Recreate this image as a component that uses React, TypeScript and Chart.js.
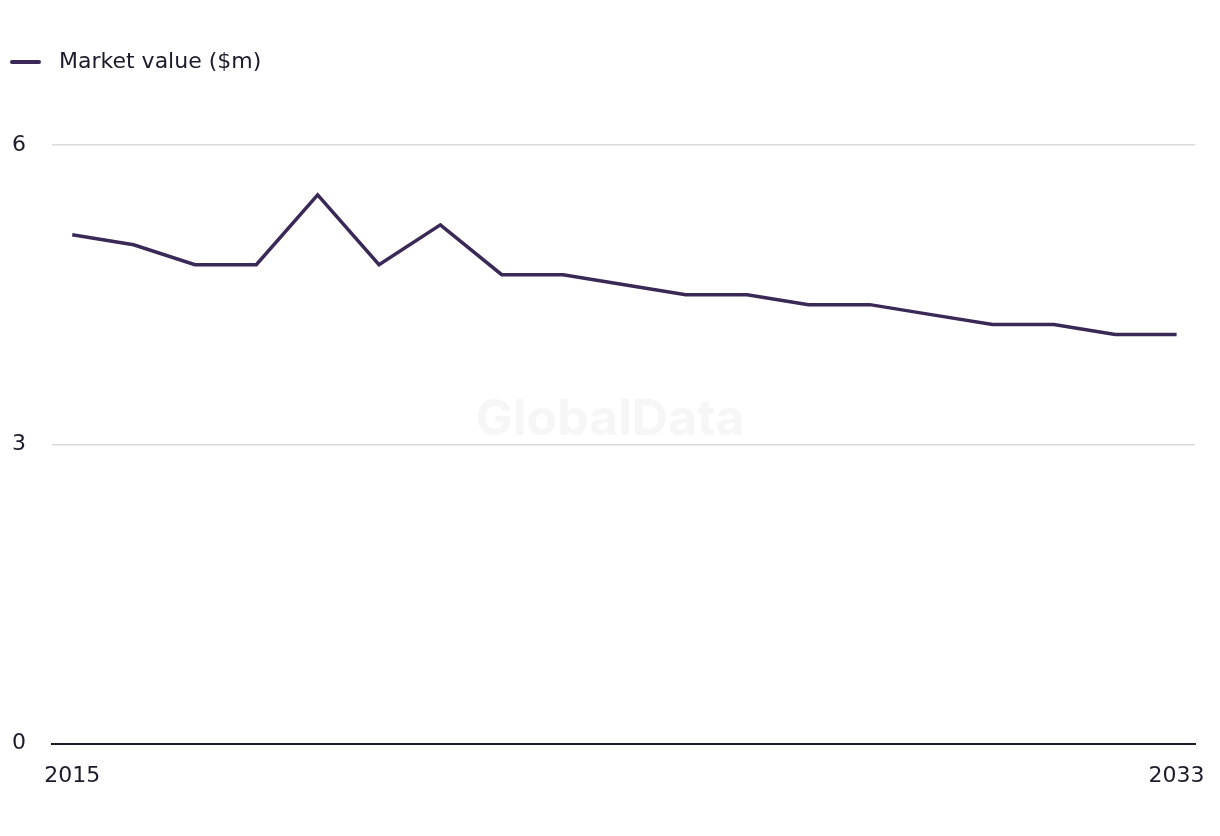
import React, { useEffect, useRef } from "react";
import { Chart, registerables } from "chart.js";

Chart.register(...registerables);

const years = [2015, 2016, 2017, 2018, 2019, 2020, 2021, 2022, 2023, 2024, 2025, 2026, 2027, 2028, 2029, 2030, 2031, 2032, 2033];
const marketValue = [5.1, 5.0, 4.8, 4.8, 5.5, 4.8, 5.2, 4.7, 4.7, 4.6, 4.5, 4.5, 4.4, 4.4, 4.3, 4.2, 4.2, 4.1, 4.1];
const yTicks = [0, 3, 6];
const xTickLabels = [2015, 2033];
const seriesLabel = "Market value ($m)";
const watermark = "GlobalData";

const FONT = "'DejaVu Sans', 'Liberation Sans', Arial, sans-serif";
const TEXT = "#1c1b2b";
const LINE = "#3a2856";

const legendPlugin = {
  id: "customLegend",
  afterDraw(chart: any) {
    const ctx = chart.ctx;
    ctx.save();
    ctx.strokeStyle = LINE;
    ctx.lineWidth = 4;
    ctx.lineCap = "round";
    ctx.beginPath();
    ctx.moveTo(4, 54);
    ctx.lineTo(31, 54);
    ctx.stroke();
    ctx.fillStyle = TEXT;
    ctx.font = `22px ${FONT}`;
    ctx.textBaseline = "middle";
    ctx.textAlign = "left";
    ctx.fillText(seriesLabel, 51, 54);
    ctx.restore();
  },
};

const watermarkPlugin = {
  id: "watermark",
  beforeDatasetsDraw(chart: any) {
    const ctx = chart.ctx;
    ctx.save();
    ctx.fillStyle = "#f6f6f6";
    ctx.font = `bold 50px Inter, 'Liberation Sans', sans-serif`;
    ctx.textAlign = "center";
    ctx.textBaseline = "middle";
    ctx.fillText(watermark, 602, 412);
    ctx.restore();
  },
};

export default function App() {
  const ref = useRef<HTMLCanvasElement>(null);
  useEffect(() => {
    if (!ref.current) return;
    const chart = new Chart(ref.current, {
      type: "line",
      data: {
        datasets: [
          {
            label: seriesLabel,
            data: years.map((y, i) => ({ x: y, y: marketValue[i] })),
            borderColor: LINE,
            backgroundColor: LINE,
            borderWidth: 3.5,
            pointRadius: 0,
            tension: 0,
          },
        ],
      },
      options: {
        animation: false,
        responsive: true,
        maintainAspectRatio: false,
        layout: { padding: { top: 137, left: 4, right: 17, bottom: 20 } },
        plugins: { legend: { display: false }, tooltip: { enabled: false } },
        scales: {
          x: {
            type: "linear",
            min: 2014.67,
            max: 2033.3,
            afterBuildTicks: (axis: any) => {
              axis.ticks = xTickLabels.map((v) => ({ value: v }));
            },
            afterFit: (axis: any) => {
              axis.paddingLeft = 0;
              axis.paddingRight = 0;
            },
            ticks: {
              autoSkip: false,
              maxRotation: 0,
              padding: 19,
              color: TEXT,
              font: { family: FONT, size: 22 },
              callback: (v: any) => String(v),
            },
            grid: { display: false, drawTicks: false },
            border: { display: true, color: "#1c1b2b", width: 2 },
          },
          y: {
            min: 0,
            max: 6,
            afterBuildTicks: (axis: any) => {
              axis.ticks = yTicks.map((v) => ({ value: v }));
            },
            afterFit: (axis: any) => {
              axis.width = 40;
            },
            ticks: {
              crossAlign: "far",
              color: TEXT,
              font: { family: FONT, size: 22 },
            },
            grid: { color: "#dadada", lineWidth: 1.5, drawTicks: false },
            border: { display: false },
          },
        },
      },
      plugins: [watermarkPlugin, legendPlugin],
    } as any);
    return () => chart.destroy();
  }, []);
  return (
    <div style={{ width: 1204, height: 820, position: "relative" }}>
      <canvas ref={ref} />
    </div>
  );
}
